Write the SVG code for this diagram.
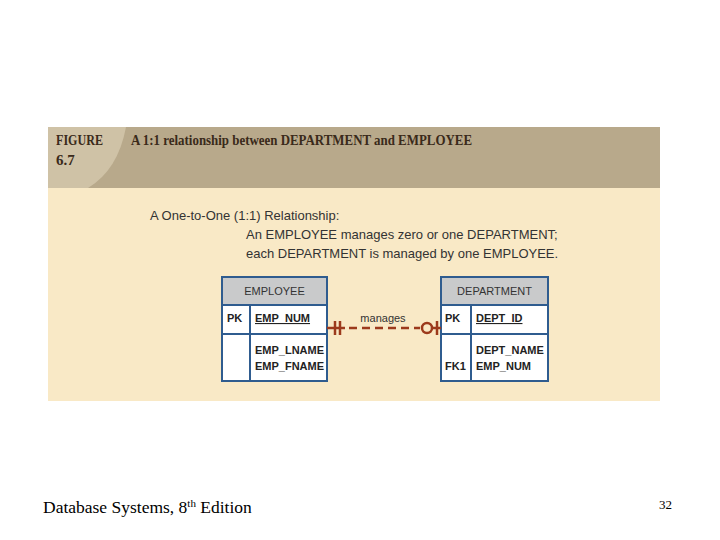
<svg xmlns="http://www.w3.org/2000/svg" width="720" height="540" viewBox="0 0 720 540">
<style>
.h{font-family:"Liberation Serif",serif;font-size:15px;font-weight:bold;fill:#3a2a1a}
.t{font-family:"Liberation Sans",sans-serif;font-size:13px;fill:#333}
.c{font-family:"Liberation Sans",sans-serif;font-size:11px;font-weight:bold;fill:#222}
.n{font-family:"Liberation Sans",sans-serif;font-size:11px;fill:#333}
.box{fill:#fff;stroke:#2f5c8f;stroke-width:2}
.hd{fill:#c9cacb;stroke:#2f5c8f;stroke-width:2}
.ln{stroke:#2f5c8f;stroke-width:2}
.r{stroke:#9c3a1c;stroke-width:2.5;fill:none}
</style>
<rect width="720" height="540" fill="#fff"/>
<rect x="48" y="127" width="612" height="274" fill="#f9e9c6"/>
<rect x="48" y="127" width="612" height="61" fill="#b8a98b"/>
<path d="M48 127 H126 Q118 170 88 188 H48 Z" fill="#cfc2a6"/>
<text class="h" x="56" y="145" textLength="47" lengthAdjust="spacingAndGlyphs">FIGURE</text>
<text class="h" x="56" y="165">6.7</text>
<text class="h" x="131" y="145" textLength="341" lengthAdjust="spacingAndGlyphs">A 1:1 relationship between DEPARTMENT and EMPLOYEE</text>
<text class="t" x="150" y="220">A One-to-One (1:1) Relationship:</text>
<text class="t" x="246" y="239">An EMPLOYEE manages zero or one DEPARTMENT;</text>
<text class="t" x="246" y="258">each DEPARTMENT is managed by one EMPLOYEE.</text>
<g id="employee">
<rect class="box" x="222" y="277" width="105" height="104"/>
<rect class="hd" x="222" y="277" width="105" height="28"/>
<line class="ln" x1="222" y1="334" x2="327" y2="334"/>
<line class="ln" x1="250" y1="305" x2="250" y2="381"/>
<text class="n" x="274.5" y="295" text-anchor="middle">EMPLOYEE</text>
<text class="c" x="227" y="322">PK</text>
<text class="c" x="255" y="322" text-decoration="underline">EMP_NUM</text>
<text class="c" x="255" y="354">EMP_LNAME</text>
<text class="c" x="255" y="370">EMP_FNAME</text>
</g>
<g id="department">
<rect class="box" x="441" y="277" width="107" height="104"/>
<rect class="hd" x="441" y="277" width="107" height="28"/>
<line class="ln" x1="441" y1="334" x2="548" y2="334"/>
<line class="ln" x1="471" y1="305" x2="471" y2="381"/>
<text class="n" x="494.5" y="295" text-anchor="middle">DEPARTMENT</text>
<text class="c" x="445" y="322">PK</text>
<text class="c" x="476" y="322" text-decoration="underline">DEPT_ID</text>
<text class="c" x="476" y="354">DEPT_NAME</text>
<text class="c" x="445" y="370">FK1</text>
<text class="c" x="476" y="370">EMP_NUM</text>
</g>
<g id="connectors">
<line class="r" x1="327" y1="328" x2="345" y2="328"/>
<line class="r" x1="335" y1="321" x2="335" y2="335"/>
<line class="r" x1="340" y1="321" x2="340" y2="335"/>
<line class="r" x1="349" y1="328" x2="420" y2="328" stroke-dasharray="8,5"/>
<circle class="r" cx="427" cy="328" r="5"/>
<line class="r" x1="432" y1="328" x2="441" y2="328"/>
<line class="r" x1="437" y1="321" x2="437" y2="335"/>
<text class="n" x="383" y="322" text-anchor="middle">manages</text>
</g>
<text x="43" y="513" style="font-family:'Liberation Serif',serif;font-size:17.5px">Database Systems, 8<tspan font-size="11" dy="-6">th</tspan><tspan dy="6"> Edition</tspan></text>
<text x="672" y="509" text-anchor="end" style="font-family:'Liberation Serif',serif;font-size:13px">32</text>
</svg>
